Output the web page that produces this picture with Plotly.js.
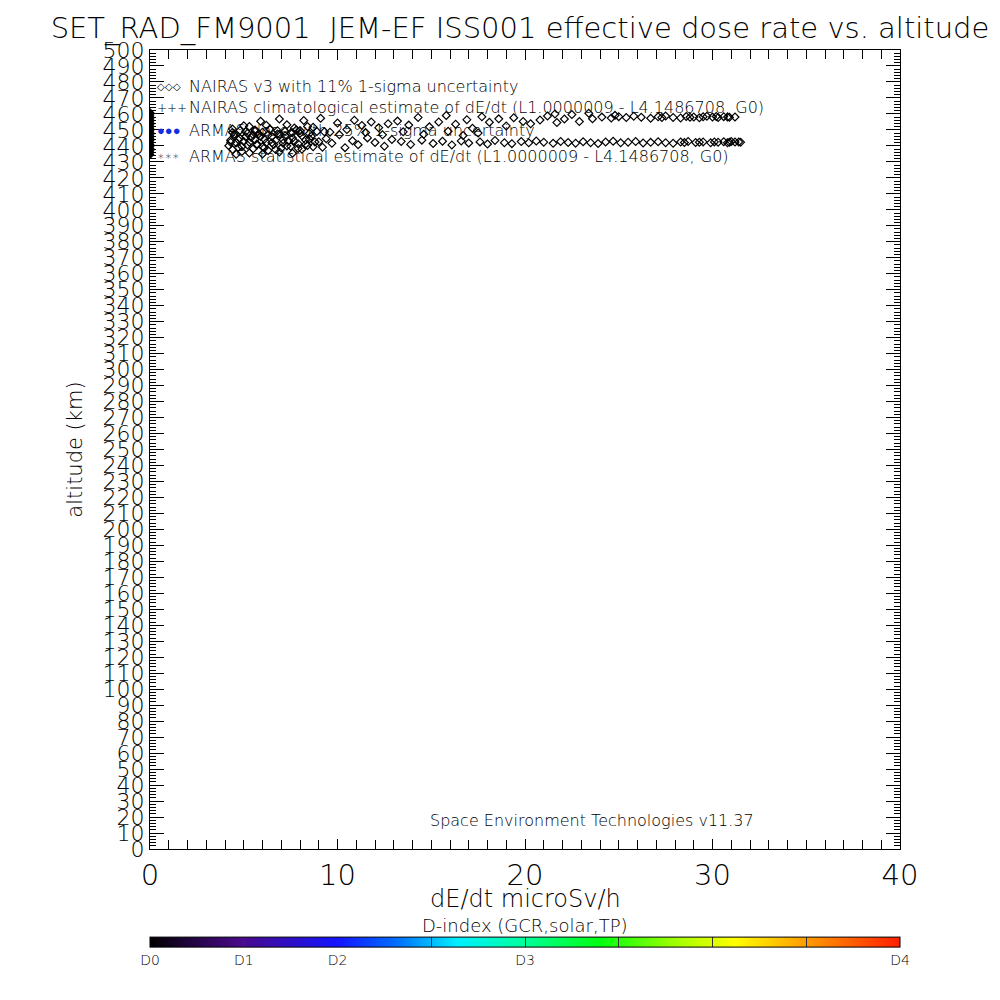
<!DOCTYPE html>
<html>
<head>
<meta charset="utf-8">
<script src="https://cdn.plot.ly/plotly-3.0.1.min.js"></script>
<style>html,body{margin:0;padding:0;background:#fff;}#chart{width:1000px;height:1000px;}</style>
</head>
<body>
<div id="chart"></div>
<script>
// NAIRAS v3 effective dose rate (microSv/h) vs altitude (km)
const nairasDose = [
  24.1,24.6,25.0,25.4,25.8,26.2,26.7,27.1,27.5,27.9,28.3,28.6,29.0,29.3,29.7,30.0,30.3,30.6,30.9,31.2,29.5,30.2,30.8,28.8,27.3,
  22.5,23.4,24.8,21.6,
  13.2,13.8,14.3,14.9,15.4,15.8,16.3,16.9,17.2,17.7,18.1,18.6,19.0,19.4,19.9,20.3,20.8,21.2,21.7,22.1,22.9,23.6,
  11.5,12.4,13.5,14.6,15.9,16.7,17.5,
  5.3,5.9,6.4,6.9,7.3,7.8,8.2,8.7,9.1,9.6,10.0,10.5,10.9,11.3,11.8,12.2,12.7,
  4.2,4.3,4.4,4.5,4.6,4.7,4.8,4.9,5.0,5.1,5.2,5.4,5.5,5.6,5.7,5.8,6.0,6.1,6.2,6.3,6.5,6.6,6.7,6.8,7.0,7.1,7.2,7.4,7.5,7.6,7.7,7.9,8.0,8.1,8.3,8.4,8.6,8.8,8.9,9.2,9.4,9.7,10.1,10.4,10.8,11.1,11.6,12.0,12.5,12.9,
  4.4,5.0,5.6,6.2,4.6,5.3,6.0,6.9,7.6,8.4,
  4.3,4.5,4.7,4.9,5.1,5.3,5.5,5.7,5.9,6.1,6.3,6.5,6.7,6.9,7.1,7.3,7.5,7.7,7.9,8.1,8.3,8.5,8.7,9.0,
  4.4,4.8,5.2,5.6,6.0,6.4,6.8,7.2,7.6,8.0,8.5,9.3,
  13.4,13.9,14.5,15.1,15.6,16.1,16.6,17.0,17.6,18.0,18.4,18.9,19.3,19.8,20.2,20.6,21.0,21.5,21.9,22.3,22.7,23.1,23.5,23.9,24.3,24.7,25.1,25.5,25.9,26.3,26.7,27.1,27.5,27.9,28.3,28.7,29.1,29.5,29.9,30.3,30.6,30.9,31.2,31.5,
  28.5,29.3,30.1,30.8,31.4,31.0
];
const nairasAlt = [
  458.0,457.4,458.3,457.7,458.6,457.9,457.3,458.2,458.7,457.8,457.5,458.4,458.1,457.6,458.5,458.0,457.7,458.3,457.9,458.1,458.2,458.4,458.0,457.9,457.8,
  459.6,460.4,459.1,460.0,
  455.5,453.0,457.8,451.9,455.0,459.0,453.6,456.4,451.0,458.2,454.8,456.9,452.5,457.6,455.3,453.8,456.2,458.7,454.6,456.8,455.2,457.0,
  448.3,446.9,448.8,447.2,449.1,446.5,448.0,
  452.1,455.4,450.6,456.8,453.2,449.9,455.9,451.7,457.3,448.6,454.3,450.2,456.1,452.8,455.0,451.4,453.9,
  440.1,443.5,437.8,446.2,441.9,439.0,444.8,436.5,442.7,448.9,440.6,445.3,438.2,443.9,441.1,447.6,439.4,444.2,442.0,437.1,445.8,440.8,443.3,449.5,438.6,441.7,446.4,443.0,439.7,444.9,451.2,441.4,447.9,437.9,443.7,440.3,446.0,442.4,449.0,439.2,444.5,441.6,446.9,438.9,443.2,440.7,445.0,442.1,439.8,444.0,
  450.5,452.6,450.0,452.9,434.8,435.6,434.9,436.2,435.4,452.1,
  442.3,447.4,444.0,439.6,445.7,442.2,447.0,440.5,445.9,438.8,446.8,441.9,437.7,447.2,443.8,440.0,448.1,442.9,438.4,446.3,441.0,444.4,439.5,442.6,
  448.4,449.7,447.9,449.2,448.6,450.3,447.5,449.1,448.2,449.6,447.7,448.8,
  442.8,440.9,443.6,441.5,442.9,440.6,443.1,441.8,442.5,441.2,443.4,442.0,441.4,442.7,441.9,443.0,442.3,441.6,442.8,442.1,441.7,442.6,442.0,441.5,442.4,442.9,441.9,442.3,442.7,441.8,442.2,442.6,442.0,441.6,442.4,442.8,442.1,442.5,441.9,442.3,442.6,442.2,442.4,442.3,
  442.1,442.3,442.5,442.0,442.5,442.7
];
// ARMAS statistical estimate points at dE/dt = 0
const armasStatDose = [0,0,0,0,0,0,0,0,0,0,0,0,0,0,0,0,0,0,0,0,0,0];
const armasStatAlt = [434.5,435.8,437.0,438.3,439.6,440.9,442.1,443.4,444.7,446.0,447.2,448.5,449.8,451.1,452.3,453.6,454.9,456.2,457.4,458.7,460.0,460.9];

const xTicks = [0,10,20,30,40];
const dIndexVals = [0,1,2,3,4,5,6,7,8];
const dIndexText = ['D0','D1','D2','','D3','','','','D4'];
const legendLabels = [
  'NAIRAS v3 with 11% 1-sigma uncertainty',
  'NAIRAS climatological estimate of dE/dt (L1.0000009 - L4.1486708, G0)',
  'ARMAS dose with 25% 1-sigma uncertainty',
  'ARMAS statistical estimate of dE/dt (L1.0000009 - L4.1486708, G0)'
];

const FONT = '"DejaVu Sans", "Liberation Sans", sans-serif';
const W = 200;
const rainbow = [[0,'#000000'],[0.12,'#4a0a8a'],[0.25,'#1414ff'],[0.33,'#0070ff'],[0.41,'#00f0ff'],[0.5,'#00ff9a'],[0.6,'#00ff10'],[0.7,'#a0ff00'],[0.78,'#ffff00'],[0.88,'#ff9600'],[1,'#ff1e00']];

const traces = [
  {type:'scatter', mode:'markers', x:nairasDose, y:nairasAlt, name:legendLabels[0], showlegend:false,
   marker:{symbol:'diamond-open', size:6, color:'#000', line:{width:1.2, color:'#000'}}},
  {type:'scatter', mode:'markers', x:armasStatDose, y:armasStatAlt, name:legendLabels[3], showlegend:false,
   marker:{symbol:'diamond', size:7, color:'#000'}},
  {type:'scatter', mode:'markers', x:[null], y:[null], showlegend:false, hoverinfo:'skip',
   marker:{color:[0], cmin:0, cmax:8, colorscale:rainbow, showscale:true,
     colorbar:{orientation:'h', x:0.5, xanchor:'center', y:-0.1363, yanchor:'middle', len:1, lenmode:'fraction',
       thickness:10, xpad:0, ypad:0, outlinewidth:1, outlinecolor:'#000',
       tickmode:'array', tickvals:dIndexVals, ticktext:dIndexText, ticks:'inside', ticklen:10, tickcolor:'#333',
       tickfont:{size:14, family:FONT, color:'#000', weight:W}}}}
];

const legendY = [86,108,131,156];
const legendSym = ['<span style="font-size:10px">◇◇◇</span>', '+++', '<span style="color:#1030e0;font-size:13px">●●●</span>', '∗∗∗'];
const annotations = [];
legendLabels.forEach((t,i)=>{
  annotations.push({xref:'paper', yref:'paper', x:(187-150)/750, y:(849-legendY[i])/799, xanchor:'left', yanchor:'middle',
    text:t, showarrow:false, font:{size:16, family:FONT, color:'#000', weight:W}});
  annotations.push({xref:'paper', yref:'paper', x:(155-150)/750, y:(849-legendY[i])/799, xanchor:'left', yanchor:'middle',
    text:legendSym[i], showarrow:false, font:{size:12, family:FONT, color:'#000'}});
});
annotations.push({xref:'paper', yref:'paper', x:(592-150)/750, y:(849-820)/799, xanchor:'center', yanchor:'middle',
  text:'Space Environment Technologies v11.37', showarrow:false, font:{size:16, family:FONT, color:'#000', weight:W}});
annotations.push({xref:'paper', yref:'paper', x:0.5, y:(849-899)/799, xanchor:'center', yanchor:'middle',
  text:'dE/dt microSv/h', showarrow:false, font:{size:24, family:FONT, color:'#000', weight:W}});
annotations.push({xref:'paper', yref:'paper', x:0.5, y:(849-925)/799, xanchor:'center', yanchor:'middle',
  text:'D-index (GCR,solar,TP)', showarrow:false, font:{size:18, family:FONT, color:'#000', weight:W}});

const layout = {
  width:1000, height:1000,
  margin:{l:150, r:100, t:50, b:151},
  paper_bgcolor:'#fff', plot_bgcolor:'#fff',
  font:{family:FONT, color:'#000', weight:W},
  showlegend:false,
  title:{text:'SET_RAD_FM9001\u00a0 JEM-EF ISS001 effective dose rate vs. altitude', x:0.52, xanchor:'center', y:0.972, yanchor:'middle',
    font:{size:29, family:FONT, color:'#000', weight:W}},
  xaxis:{range:[0,40], tickmode:'array', tickvals:xTicks, ticks:'inside', ticklen:10, tickwidth:1, tickcolor:'#000',
    minor:{dtick:1, tick0:0, ticks:'inside', ticklen:9, tickcolor:'#000', showgrid:false},
    showline:true, linecolor:'#000', linewidth:1, mirror:'allticks', showgrid:false, zeroline:false,
    tickfont:{size:29, family:FONT, color:'#000', weight:W}, automargin:false},
  yaxis:{range:[0,500], tickmode:'linear', tick0:0, dtick:10, ticks:'inside', ticklen:14, tickwidth:1, tickcolor:'#000',
    minor:{dtick:2, tick0:0, ticks:'inside', ticklen:6, tickcolor:'#000', showgrid:false},
    showline:true, linecolor:'#000', linewidth:1, mirror:'allticks', showgrid:false, zeroline:false,
    tickfont:{size:22, family:FONT, color:'#000', weight:W},
    title:{text:'altitude (km)', font:{size:21, family:FONT, color:'#000', weight:W}, standoff:14}, automargin:false},
  annotations:annotations
};

Plotly.newPlot('chart', traces, layout, {displayModeBar:false, staticPlot:true});
</script>
</body>
</html>
